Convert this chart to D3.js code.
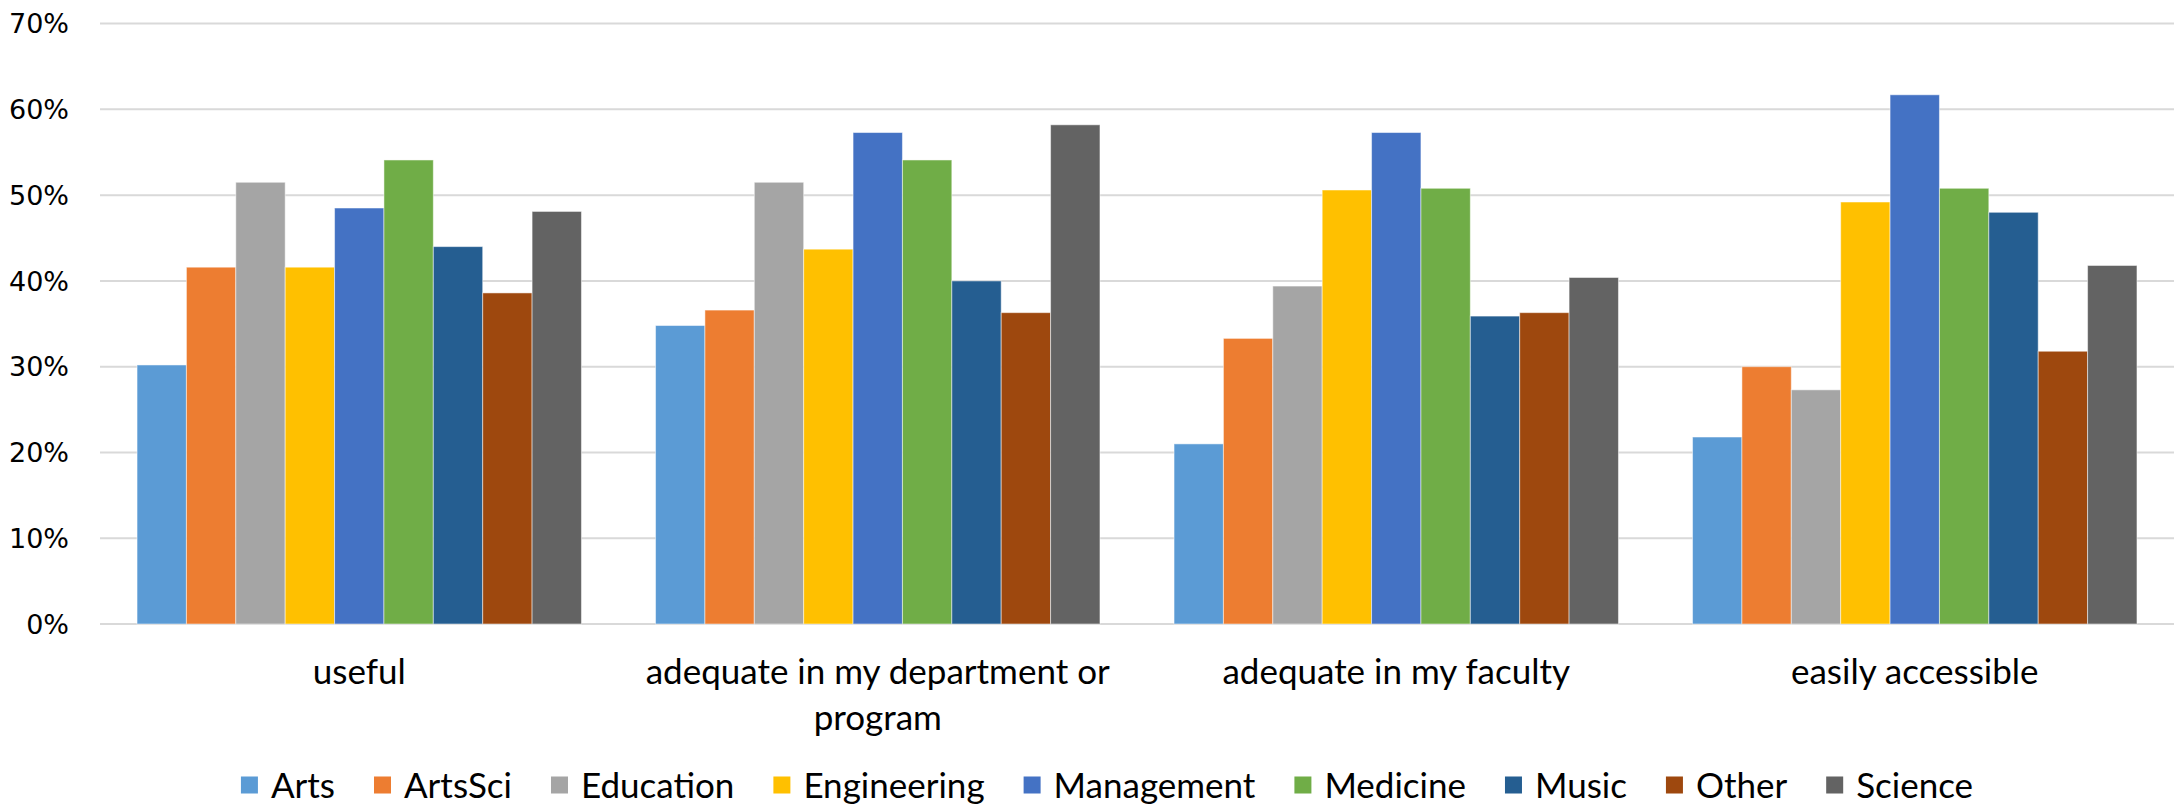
<!DOCTYPE html>
<html lang="en">
<head>
<meta charset="UTF-8">
<title>Survey by faculty</title>
<script src="https://d3js.org/d3.v7.min.js"></script>
<style>
    body { margin: 0; background: #fff; }
    svg { display: block; }
</style>
</head>
<body>
<svg id="chart" width="2178" height="806"></svg>
<script>
// data (share of respondents)
const categories = ["useful", "adequate in my department or program", "adequate in my faculty", "easily accessible"];
const series = ["Arts", "ArtsSci", "Education", "Engineering", "Management", "Medicine", "Music", "Other", "Science"];
const colors = ["#5B9BD5", "#ED7D31", "#A5A5A5", "#FFC000", "#4472C4", "#70AD47", "#255E91", "#9E480E", "#636363"];

const arts        = [0.302, 0.348, 0.210, 0.218];
const artsSci     = [0.416, 0.366, 0.333, 0.300];
const education   = [0.515, 0.515, 0.394, 0.273];
const engineering = [0.416, 0.437, 0.506, 0.492];
const management  = [0.485, 0.573, 0.573, 0.617];
const medicine    = [0.541, 0.541, 0.508, 0.508];
const music       = [0.440, 0.400, 0.359, 0.480];
const other       = [0.386, 0.363, 0.363, 0.318];
const science     = [0.481, 0.582, 0.404, 0.418];

const yTicks = [0, 0.1, 0.2, 0.3, 0.4, 0.5, 0.6, 0.7];

const values = [arts, artsSci, education, engineering, management, medicine, music, other, science];

const svg = d3.select("#chart");
const plotLeft = 100, plotRight = 2174, plotTop = 23.6, plotBottom = 624;
const catFont = "Lato, 'Open Sans', sans-serif";

const x0 = d3.scaleBand().domain(categories).range([plotLeft, plotRight]);
const barW = x0.step() / 10.5;  // gap width 150%
const x1 = d3.scaleBand().domain(series).range([barW * 0.75, x0.step() - barW * 0.75]);
const y = d3.scaleLinear().domain([0, 0.7]).range([plotBottom, plotTop]);
const color = d3.scaleOrdinal().domain(series).range(colors);

// gridlines
svg.append("g")
    .selectAll("line")
    .data(yTicks)
    .join("line")
    .attr("x1", plotLeft)
    .attr("x2", plotRight)
    .attr("y1", d => y(d))
    .attr("y2", d => y(d))
    .attr("stroke", "#D9D9D9")
    .attr("stroke-width", 2);

// y axis labels
svg.append("g")
    .selectAll("text")
    .data(yTicks)
    .join("text")
    .attr("x", 69)
    .attr("y", d => y(d))
    .attr("dy", "0.36em")
    .attr("text-anchor", "end")
    .attr("font-family", "'DejaVu Sans', Verdana, sans-serif")
    .attr("font-size", 27)
    .attr("fill", "#000")
    .text(d3.format(".0%"));

// bars
const rows = [];
categories.forEach((c, ci) => {
    series.forEach((s, si) => rows.push({ cat: c, name: s, value: values[si][ci] }));
});

svg.append("g")
    .selectAll("rect")
    .data(rows)
    .join("rect")
    .attr("x", d => x0(d.cat) + x1(d.name))
    .attr("y", d => y(d.value))
    .attr("width", x1.bandwidth())
    .attr("height", d => y(0) - y(d.value))
    .attr("fill", d => color(d.name))
    .attr("stroke", "#fff")
    .attr("stroke-opacity", 0.5)
    .attr("stroke-width", 1);

// category labels, wrapped to the band width
const catG = svg.append("g")
    .attr("font-family", catFont)
    .attr("font-size", 35)
    .attr("fill", "#000")
    .attr("text-anchor", "middle");

categories.forEach(c => {
    const cx = x0(c) + x0.step() / 2;
    const t = catG.append("text")
        .attr("x", cx)
        .attr("y", 671);
    const words = c.split(" ");
    let line = [];
    let tspan = t.append("tspan").attr("x", cx).attr("dy", "0.36em");
    words.forEach(w => {
        line.push(w);
        tspan.text(line.join(" "));
        if (tspan.node().getComputedTextLength() > x0.step() - 20 && line.length > 1) {
            line.pop();
            tspan.text(line.join(" "));
            line = [w];
            tspan = t.append("tspan").attr("x", cx).attr("dy", 46).text(w);
        }
    });
});

// legend
const legend = svg.append("g")
    .attr("font-family", catFont)
    .attr("font-size", 35)
    .attr("fill", "#000");

const items = legend.selectAll("g")
    .data(series)
    .join("g");

items.append("rect")
    .attr("width", 17)
    .attr("height", 17)
    .attr("y", -8.5)
    .attr("fill", d => color(d));

items.append("text")
    .attr("x", 30)
    .attr("dy", "0.36em")
    .text(d => d);

let pos = 0;
const offsets = [];
items.each(function () {
    offsets.push(pos);
    pos += 30 + d3.select(this).select("text").node().getComputedTextLength() + 39;
});
const total = pos - 39;
const startX = 1107 - total / 2;
items.attr("transform", (d, i) => `translate(${startX + offsets[i]},785)`);
</script>
</body>
</html>
